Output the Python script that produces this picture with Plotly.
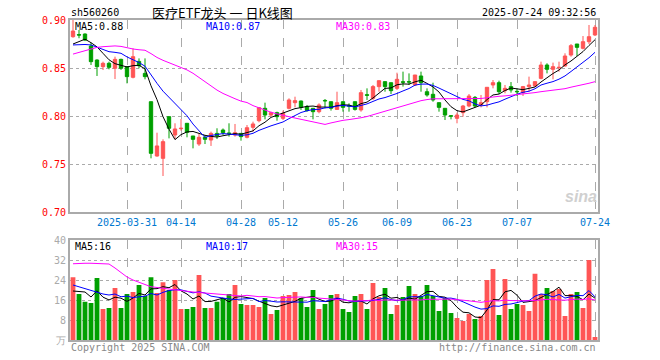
import plotly.graph_objects as go
import pandas as pd

# ---------------- data ----------------
dates = [
    "2025-03-18", "2025-03-19", "2025-03-20", "2025-03-21",
    "2025-03-24", "2025-03-25", "2025-03-26", "2025-03-27", "2025-03-28",
    "2025-03-31", "2025-04-01", "2025-04-02", "2025-04-03",
    "2025-04-07", "2025-04-08", "2025-04-09", "2025-04-10", "2025-04-11",
    "2025-04-14", "2025-04-15", "2025-04-16", "2025-04-17", "2025-04-18",
    "2025-04-21", "2025-04-22", "2025-04-23", "2025-04-24", "2025-04-25",
    "2025-04-28", "2025-04-29", "2025-04-30",
    "2025-05-06", "2025-05-07", "2025-05-08", "2025-05-09",
    "2025-05-12", "2025-05-13", "2025-05-14", "2025-05-15", "2025-05-16",
    "2025-05-19", "2025-05-20", "2025-05-21", "2025-05-22", "2025-05-23",
    "2025-05-26", "2025-05-27", "2025-05-28", "2025-05-29", "2025-05-30",
    "2025-06-03", "2025-06-04", "2025-06-05", "2025-06-06",
    "2025-06-09", "2025-06-10", "2025-06-11", "2025-06-12", "2025-06-13",
    "2025-06-16", "2025-06-17", "2025-06-18", "2025-06-19", "2025-06-20",
    "2025-06-23", "2025-06-24", "2025-06-25", "2025-06-26", "2025-06-27",
    "2025-06-30", "2025-07-01", "2025-07-02", "2025-07-03", "2025-07-04",
    "2025-07-07", "2025-07-08", "2025-07-09", "2025-07-10", "2025-07-11",
    "2025-07-14", "2025-07-15", "2025-07-16", "2025-07-17", "2025-07-18",
    "2025-07-21", "2025-07-22", "2025-07-23", "2025-07-24",
]

opens = [
    0.8826, 0.8848, 0.8854, 0.8729,
    0.8583, 0.8514, 0.8549, 0.8497, 0.8590,
    0.8514, 0.8403, 0.8569, 0.8444,
    0.8149, 0.7583, 0.7559, 0.7993, 0.7802,
    0.7868, 0.7924, 0.7792, 0.7708, 0.7778,
    0.7750, 0.7819, 0.7854, 0.7822, 0.7802,
    0.7819, 0.7778, 0.7882,
    0.7951, 0.8080, 0.8010, 0.8035,
    0.7976, 0.8080, 0.8139, 0.8156, 0.8097,
    0.8080, 0.8045, 0.8162, 0.8149, 0.8069,
    0.8149, 0.8108, 0.8149, 0.8063, 0.8222,
    0.8184, 0.8306, 0.8358, 0.8347,
    0.8288, 0.8356, 0.8358, 0.8323, 0.8417,
    0.8253, 0.8226, 0.8139, 0.8080, 0.8002,
    0.7976, 0.8035, 0.8104, 0.8194, 0.8115,
    0.8149, 0.8323, 0.8347, 0.8264, 0.8306,
    0.8257, 0.8243, 0.8306, 0.8313, 0.8392,
    0.8531, 0.8486, 0.8503, 0.8521, 0.8635,
    0.8750, 0.8705, 0.8774, 0.8844,
]

highs = [
    0.9030, 0.8896, 0.8860, 0.8764,
    0.8590, 0.8566, 0.8566, 0.8618, 0.8597,
    0.8517, 0.8705, 0.8600, 0.8600,
    0.8149, 0.7826, 0.7757, 0.7993, 0.7924,
    0.7969, 0.7924, 0.7792, 0.7819, 0.7802,
    0.7837, 0.7872, 0.7870, 0.7924, 0.7917,
    0.7822, 0.7906, 0.7941,
    0.8087, 0.8139, 0.8045, 0.8045,
    0.8056, 0.8184, 0.8201, 0.8160, 0.8115,
    0.8080, 0.8132, 0.8177, 0.8149, 0.8253,
    0.8149, 0.8132, 0.8149, 0.8271, 0.8288,
    0.8323, 0.8368, 0.8358, 0.8347,
    0.8451, 0.8462, 0.8444, 0.8427, 0.8462,
    0.8288, 0.8347, 0.8139, 0.8080, 0.8010,
    0.8035, 0.8115, 0.8229, 0.8208, 0.8219,
    0.8299, 0.8375, 0.8368, 0.8323, 0.8354,
    0.8288, 0.8313, 0.8410, 0.8358, 0.8566,
    0.8549, 0.8556, 0.8566, 0.8653, 0.8750,
    0.8750, 0.8833, 0.8948, 0.8948,
]

lows = [
    0.8815, 0.8810, 0.8780, 0.8531,
    0.8417, 0.8479, 0.8486, 0.8385, 0.8480,
    0.8340, 0.8392, 0.8497, 0.8382,
    0.7559, 0.7576, 0.7375, 0.7767, 0.7760,
    0.7847, 0.7778, 0.7663, 0.7688, 0.7708,
    0.7688, 0.7760, 0.7802, 0.7785, 0.7785,
    0.7743, 0.7767, 0.7837,
    0.7934, 0.7965, 0.7993, 0.7951,
    0.7958, 0.8069, 0.8090, 0.8063, 0.8045,
    0.7965, 0.8028, 0.8080, 0.8056, 0.8063,
    0.8045, 0.8045, 0.8056, 0.8045, 0.8167,
    0.8167, 0.8253, 0.8253, 0.8229,
    0.8271, 0.8306, 0.8323, 0.8312, 0.8253,
    0.8201, 0.8149, 0.8045, 0.7958, 0.7965,
    0.7924, 0.7993, 0.8090, 0.8090, 0.8090,
    0.8090, 0.8288, 0.8229, 0.8236, 0.8243,
    0.8208, 0.8208, 0.8253, 0.8306, 0.8382,
    0.8444, 0.8382, 0.8462, 0.8514, 0.8618,
    0.8625, 0.8694, 0.8750, 0.8833,
]

closes = [
    0.8885, 0.8843, 0.8792, 0.8566,
    0.8514, 0.8549, 0.8507, 0.8590, 0.8497,
    0.8410, 0.8618, 0.8524, 0.8410,
    0.7611, 0.7688, 0.7733, 0.7872, 0.7865,
    0.7872, 0.7830, 0.7757, 0.7778, 0.7757,
    0.7819, 0.7792, 0.7826, 0.7819, 0.7826,
    0.7785, 0.7878, 0.7917,
    0.8087, 0.8010, 0.8035, 0.7993,
    0.8028, 0.8167, 0.8160, 0.8090, 0.8056,
    0.8045, 0.8115, 0.8158, 0.8080, 0.8139,
    0.8090, 0.8104, 0.8069, 0.8243, 0.8216,
    0.8306, 0.8368, 0.8306, 0.8264,
    0.8382, 0.8352, 0.8354, 0.8427, 0.8347,
    0.8219, 0.8167, 0.8090, 0.8010, 0.7999,
    0.8010, 0.8104, 0.8208, 0.8104, 0.8139,
    0.8299, 0.8347, 0.8253, 0.8288, 0.8271,
    0.8253, 0.8306, 0.8323, 0.8358, 0.8531,
    0.8486, 0.8514, 0.8507, 0.8625, 0.8733,
    0.8715, 0.8774, 0.8826, 0.8924,
]

volumes = [
    25.1, 18.4, 15.3, 14.8,
    24.8, 12.4, 12.8, 20.8, 12.8,
    18.4, 19.2, 22.0, 17.6,
    25.1, 18.8, 23.1, 20.0, 24.0,
    12.4, 12.4, 13.2, 26.0, 12.8,
    12.8, 15.3, 16.8, 18.4, 22.0,
    14.4, 14.0, 14.0,
    13.2, 16.8, 10.4, 12.0,
    17.6, 18.0, 19.2, 16.8, 13.2,
    20.0, 12.4, 14.4, 18.0, 18.4,
    12.4, 11.2, 17.6, 18.4, 12.4,
    22.8, 17.2, 20.8, 10.4,
    14.0, 17.2, 21.6, 18.4, 17.6,
    22.0, 17.6, 11.6, 16.8, 10.8,
    8.8, 7.6, 10.4, 8.4, 9.6,
    24.0, 28.4, 10.0, 24.4, 12.4,
    14.4, 14.0, 11.6, 26.5, 18.4,
    20.8, 19.6, 20.4, 9.6, 18.4,
    19.2, 12.8, 32.0, 1.2,
]

# moving-average values before enough bars exist on screen
price_ma5_head = [0.8750, 0.8774, 0.8800, 0.8764]
price_ma10_head = [0.8740, 0.8745, 0.8745, 0.8740, 0.8715, 0.8688, 0.8670, 0.8663, 0.8653]
price_ma30_head = [
    0.8645, 0.8662, 0.8678, 0.8700, 0.8715, 0.8722, 0.8728, 0.8730, 0.8725, 0.8710,
    0.8698, 0.8690, 0.8685, 0.8650, 0.8610, 0.8580, 0.8555, 0.8530, 0.8505, 0.8480,
    0.8445, 0.8400, 0.8355, 0.8310, 0.8270, 0.8235, 0.8205, 0.8180, 0.8155,
]
vol_ma5_head = [19.6, 19.4, 19.2, 17.2]
vol_ma10_head = [22.0, 21.3, 20.3, 19.7, 18.9, 18.4, 18.0, 18.4, 17.3]
vol_ma30_head = [
    30.5, 30.7, 30.7, 30.7, 30.7, 30.6, 30.4, 28.8, 27.0, 25.2,
    24.0, 23.0, 22.2, 21.3, 21.0, 20.7, 20.2, 19.8, 19.5, 19.3,
    19.2, 19.0, 18.8, 18.5, 18.3, 18.1, 17.9, 17.7, 17.6,
]

tick_dates = ["2025-03-31", "2025-04-14", "2025-04-28", "2025-05-12", "2025-05-26",
              "2025-06-09", "2025-06-23", "2025-07-07", "2025-07-24"]
tick_text = ["2025-03-31", "04-14", "04-28", "05-12", "05-26",
             "06-09", "06-23", "07-07", "07-24"]
price_ticks = [0.70, 0.75, 0.80, 0.85, 0.90]
vol_ticks = [0, 8, 16, 24, 32, 40]
vol_tick_text = ["万", "8", "16", "24", "32", "40"]

code = "sh560260"
title = "医疗ETF龙头 一 日K线图"
stamp = "2025-07-24 09:32:56"
price_ma_labels = ["MA5:0.88", "MA10:0.87", "MA30:0.83"]
vol_ma_labels = ["MA5:16", "MA10:17", "MA30:15"]


# ---------------- helpers ----------------
def moving_avg(values, n, head):
    s = pd.Series(values).rolling(n).mean().tolist()
    return list(head) + s[len(head):]


RED = "#ff5555"
GREEN = "#00a000"
MONO = "DejaVu Sans Mono"
W, H = 660, 360
L, R, T, B = 70, 62, 20, 20
PW, PH = W - L - R, H - T - B


def px(x):
    return (x - L) / PW


def py(y):
    return (H - B - y) / PH


p_ma5 = moving_avg(closes, 5, price_ma5_head)
p_ma10 = moving_avg(closes, 10, price_ma10_head)
p_ma30 = moving_avg(closes, 30, price_ma30_head)
v_ma5 = moving_avg(volumes, 5, vol_ma5_head)
v_ma10 = moving_avg(volumes, 10, vol_ma10_head)
v_ma30 = moving_avg(volumes, 30, vol_ma30_head)
bar_colors = [RED if c >= o else GREEN for o, c in zip(opens, closes)]

fig = go.Figure()
fig.add_trace(go.Candlestick(
    x=dates, open=opens, high=highs, low=lows, close=closes,
    increasing=dict(line=dict(color=RED, width=1), fillcolor=RED),
    decreasing=dict(line=dict(color=GREEN, width=1), fillcolor=GREEN),
    xaxis="x", yaxis="y", showlegend=False, hoverinfo="skip",
))
for vals, col in [(p_ma5, "#000000"), (p_ma10, "#0000ff"), (p_ma30, "#ff00ff")]:
    fig.add_trace(go.Scatter(x=dates, y=vals, mode="lines", line=dict(color=col, width=1),
                             xaxis="x", yaxis="y", showlegend=False, hoverinfo="skip"))

fig.add_trace(go.Bar(x=dates, y=volumes, marker=dict(color=bar_colors, line=dict(width=0)),
                     xaxis="x2", yaxis="y2", showlegend=False, hoverinfo="skip"))
for vals, col in [(v_ma5, "#000000"), (v_ma10, "#0000ff"), (v_ma30, "#ff00ff")]:
    fig.add_trace(go.Scatter(x=dates, y=vals, mode="lines", line=dict(color=col, width=1),
                             xaxis="x2", yaxis="y2", showlegend=False, hoverinfo="skip"))

frame = dict(showline=True, mirror=True, linecolor="#aaaaaa", linewidth=2)
xcommon = dict(type="category", range=[-0.5, len(dates) - 0.5], tickmode="array",
               tickvals=tick_dates, showgrid=True, gridcolor="#aaaaaa", griddash="dash",
               gridwidth=1, zeroline=False, fixedrange=True, **frame)

fig.update_layout(
    width=W, height=H,
    margin=dict(l=L, r=R, t=T, b=B),
    paper_bgcolor="white", plot_bgcolor="white",
    font=dict(family=MONO, size=10, color="#000"),
    boxgap=0.2, bargap=0.2, hovermode=False,
    xaxis=dict(domain=[0, 1], anchor="y", ticktext=tick_text,
               tickfont=dict(family=MONO, size=10, color="#0078d0"),
               rangeslider=dict(visible=False), ticks="", **xcommon),
    xaxis2=dict(domain=[0, 1], anchor="y2", matches="x", showticklabels=False,
                ticks="", **xcommon),
    yaxis=dict(domain=[(H - B - 212) / PH, 1], range=[0.70, 0.90], tickvals=price_ticks,
               ticktext=["%.2f" % v for v in price_ticks],
               tickfont=dict(family=MONO, size=10, color="#ff0000"),
               showgrid=True, gridcolor="#aaaaaa", griddash="dot", zeroline=False,
               ticks="", fixedrange=True, **frame),
    yaxis2=dict(domain=[0, (H - B - 240) / PH], range=[0, 40], tickvals=vol_ticks,
                ticktext=vol_tick_text,
                tickfont=dict(family=MONO, size=10, color="#aaaaaa"),
                showgrid=True, gridcolor="#aaaaaa", griddash="dot", zeroline=False,
                ticks="", fixedrange=True, **frame),
)

ann = []


def text(x, y, s, color="#000", size=10, anchor="left", family=MONO, **kw):
    ann.append(dict(x=px(x), y=py(y), xref="paper", yref="paper", text=s, showarrow=False,
                    xanchor=anchor, yanchor="middle",
                    font=dict(family=family, size=size, color=color), **kw))


text(69, 12, code)
text(222, 12, title, size=13, anchor="center", family="Noto Sans CJK SC")
text(598, 12, stamp, anchor="right")
for s, x, col in zip(price_ma_labels, [73, 204, 334], ["#000", "#0000ff", "#ff00ff"]):
    text(x, 27, s, color=col)
for s, x, col in zip(vol_ma_labels, [73, 204, 334], ["#000", "#0000ff", "#ff00ff"]):
    text(x, 246, s, color=col)
text(69, 347, "Copyright 2025 SINA.COM", color="#888888")
text(598, 347, "http://finance.sina.com.cn", color="#888888", anchor="right")
text(581, 196, "<b><i>sina</i></b>", color="#d0d0d0", size=16, anchor="center",
     family="Liberation Sans")
fig.update_layout(annotations=ann)

fig.write_html("out.html", config={"displayModeBar": False, "staticPlot": True},
               post_script="document.body.style.margin='0';document.body.style.overflow='hidden';")
